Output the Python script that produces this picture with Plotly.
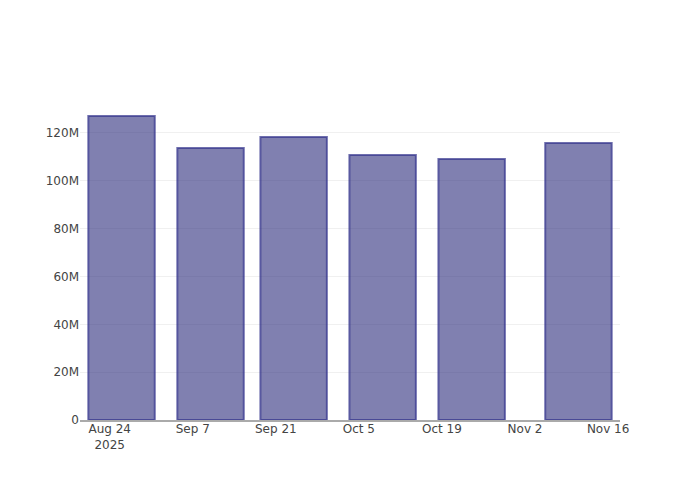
import plotly.graph_objects as go

dates = ["2025-08-26", "2025-09-10", "2025-09-24", "2025-10-09", "2025-10-24", "2025-11-11"]
values = [127.1e6, 113.7e6, 118.3e6, 110.8e6, 109.1e6, 115.8e6]

fig = go.Figure(go.Bar(
    x=dates,
    y=values,
    marker=dict(color="rgba(43,43,123,0.6)",
                line=dict(color="rgba(50,50,140,0.7)", width=2)),
))

fig.update_layout(
    width=700, height=500,
    template="plotly_white",
    plot_bgcolor="white",
    paper_bgcolor="white",
    margin=dict(l=72, r=88, t=92, b=88),
    font=dict(family="DejaVu Sans, Open Sans, sans-serif", size=12, color="#444"),
    showlegend=False,
    xaxis=dict(showgrid=False, showline=True, linecolor="#aaaaaa", linewidth=2,
               ticks="", zeroline=False, ticklabelstandoff=-3),
    yaxis=dict(showgrid=True, gridcolor="#f0f0f0", zeroline=False, ticks="",
               tickformat="~s"),
)

fig.write_html("out.html")
